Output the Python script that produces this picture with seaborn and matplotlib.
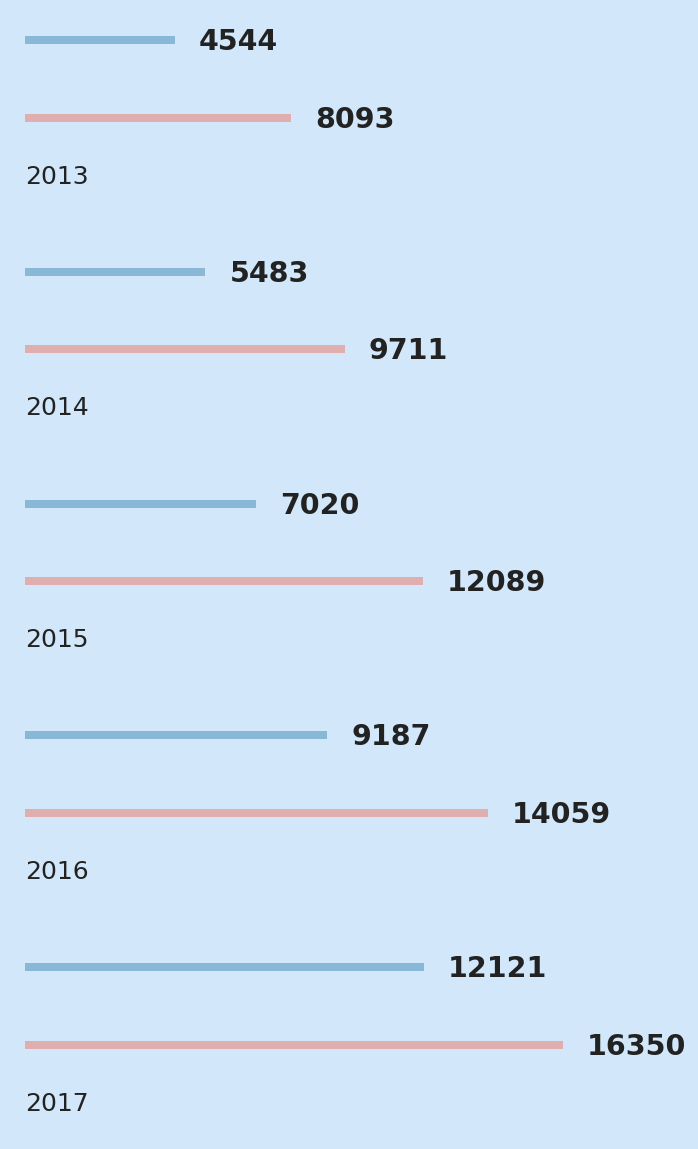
import matplotlib
matplotlib.use("Agg")
import matplotlib.pyplot as plt
import seaborn as sns
import pandas as pd
import numpy as np

years = ["2013", "2014", "2015", "2016", "2017"]
series_a = [4544, 5483, 7020, 9187, 12121]
series_b = [8093, 9711, 12089, 14059, 16350]

BG = "#D2E8FA"
BLUE = "#89B8D6"
PINK = "#E0AEAE"
TXT = "#222222"

sns.set_theme(style="white")
plt.rcParams["font.family"] = ["DejaVu Sans"]

W, H = 698, 1149
fig = plt.figure(figsize=(W / 100, H / 100), dpi=100, facecolor=BG)
ax = fig.add_axes([0, 0, 1, 1], facecolor=BG)

px_per_unit = (563 - 25) / 16350.0
x0 = -25 / px_per_unit
x1 = (W - 25) / px_per_unit

top = 40.0
group_step = 231.8
pair_gap = 77.5
label_gap = 66.0

rows = []
for i, y in enumerate(years):
    base = top + i * group_step
    rows.append(dict(year=y, series="a", value=series_a[i], pos=base))
    rows.append(dict(year=y, series="b", value=series_b[i], pos=base + pair_gap))
df = pd.DataFrame(rows)

sns.barplot(data=df, x="value", y="pos", hue="series", orient="h",
            native_scale=True, dodge=False, width=8 / pair_gap,
            palette={"a": BLUE, "b": PINK}, saturation=1, legend=False,
            linewidth=0, ax=ax)

ax.set_xlim(x0, x1)
ax.set_ylim(H, 0)
ax.axis("off")

gap_units = 24 / px_per_unit
for _, r in df.iterrows():
    ax.text(r["value"] + gap_units, r["pos"] + 10, f"{r['value']}", ha="left", va="baseline",
            fontsize=20.5, fontweight="bold", color=TXT)

for i, y in enumerate(years):
    ax.text(0, top + i * group_step + pair_gap + label_gap, y, ha="left", va="baseline",
            fontsize=18, fontweight="normal", color=TXT)

fig.savefig("out.png", dpi=100, facecolor=BG)
